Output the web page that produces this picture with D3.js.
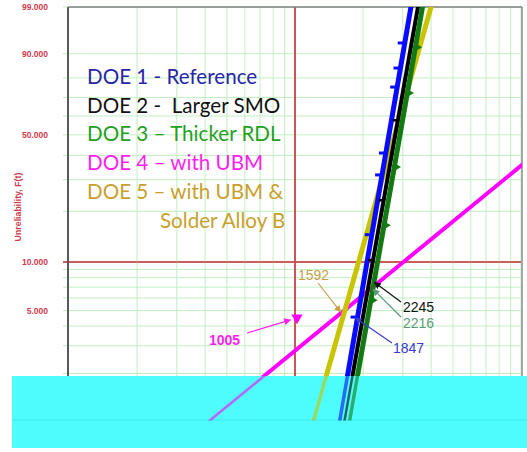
<!DOCTYPE html>
<html>
<head>
<meta charset="utf-8">
<script src="https://cdn.jsdelivr.net/npm/d3@7"></script>
<style>
  body { margin: 0; background: #fff; }
  svg { display: block; }
</style>
</head>
<body>
<svg id="chart" width="527" height="452"></svg>
<script>
// Weibull probability plot – unreliability vs. time for five DOE legs

// Fitted Weibull parameters per leg
const seriesNames = ["DOE 1 - Reference", "DOE 2 -  Larger SMO", "DOE 3 – Thicker RDL", "DOE 4 – with UBM", "DOE 5 – with UBM &"];
const betas = [8.45, 8.19, 8.25, 1.19, 5.12];
const etas  = [2720, 2905, 3047, 20000, 2967];

// Plotted failure points [time, unreliability %]
const doe1Points = [[3060, 93.3], [2930, 84.5], [2833, 75.5], [2525, 41.1], [2429, 31.8], [2187, 14.6], [1892, 4.55]];
const doe2Points = [[2851, 57.8], [2470, 23.2], [2216, 10.3]];
const doe3Points = [[3412, 92.1], [3140, 72.4], [2751, 35.0], [2480, 16.6], [2168, 5.8]];
const doe4Points = [[1005, 4.5]];

// Call-out values (time) and the unreliability level they point at
const calloutValues = [1592, 2245, 2216, 1847, 1005];
const calloutF      = [4.9, 7.5, 6.8, 4.5, 4.5];

// Axis ticks
const yGridF    = [1, 2, 3, 4, 5, 6, 7, 8, 9, 10, 20, 30, 40, 50, 60, 70, 80, 90, 99];
const yLabelF   = [99, 90, 50, 10, 5, 1];
const xGridT    = [200, 300, 400, 500, 600, 700, 800, 900, 1000, 2000, 3000, 4000, 5000, 6000, 7000, 8000, 9000, 10000];
const xRefT     = 1000;
const yRefF     = 10;

// ---- styling / layout ----
const lineColors = ["#0a0aff", "#000000", "#137a13", "#ff00ff", "#c9c400"];
const lineWidths = [5, 4, 5, 4, 5];
const textColors = ["#2727a6", "#111111", "#24a024", "#ff1ef0", "#c9a02c"];
const calloutColors = ["#c9a04a", "#111111", "#5d9a7d", "#3a3ad0", "#ff1ef0"];
const calloutLayout = [
  { tx: 298, ty: 280, sx: 318, sy: 283, bold: false },
  { tx: 403, ty: 312, sx: 401, sy: 302, bold: false },
  { tx: 403, ty: 328, sx: 401, sy: 317, bold: false },
  { tx: 393, ty: 353, sx: 392, sy: 343, bold: false },
  { tx: 209, ty: 345, sx: 247, sy: 333, bold: true, tipDx: -5, tipDy: 2 }
];

const W = 527, H = 452;
const plot = { left: 69, right: 521, top: 7, bottom: 420.6 };

const svg = d3.select("#chart");

const wTrans = F => Math.log(-Math.log(1 - F / 100));
const x = d3.scaleLog().domain([100, 10000]).range([plot.left, plot.right]);
const yw = d3.scaleLinear().domain([wTrans(1), wTrans(99)]).range([plot.bottom, plot.top]);
const y = F => yw(wTrans(F));

// clip paths
const defs = svg.append("defs");
defs.append("clipPath").attr("id", "plotClip")
  .append("rect").attr("x", plot.left - 1).attr("y", plot.top)
  .attr("width", plot.right - plot.left + 2).attr("height", 376 - plot.top);
defs.append("clipPath").attr("id", "bandClip")
  .append("rect").attr("x", plot.left - 1).attr("y", 376)
  .attr("width", plot.right - plot.left + 2).attr("height", plot.bottom - 376);

// ---- grid ----
const grid = svg.append("g");
grid.selectAll("line.h").data(yGridF).join("line")
  .attr("x1", plot.left - 6).attr("x2", plot.right)
  .attr("y1", d => y(d)).attr("y2", d => y(d))
  .attr("stroke", d => d === yRefF ? "#c85050" : "#bff0bf")
  .attr("stroke-width", d => d === yRefF ? 1.6 : 1);
grid.selectAll("line.v").data(xGridT).join("line")
  .attr("x1", d => x(d)).attr("x2", d => x(d))
  .attr("y1", plot.top).attr("y2", plot.bottom)
  .attr("stroke", d => d === xRefT ? "#c85050" : "#bff0bf")
  .attr("stroke-width", d => d === xRefT ? 1.6 : 1);
// reference lines on top of the green grid
grid.append("line").attr("x1", plot.left - 6).attr("x2", plot.right)
  .attr("y1", y(yRefF)).attr("y2", y(yRefF)).attr("stroke", "#c85050").attr("stroke-width", 1.6);
grid.append("line").attr("x1", x(xRefT)).attr("x2", x(xRefT))
  .attr("y1", plot.top).attr("y2", plot.bottom).attr("stroke", "#c85050").attr("stroke-width", 1.6);

// ---- frame ----
svg.append("line").attr("x1", plot.left - 1).attr("x2", plot.left - 1)
  .attr("y1", plot.top).attr("y2", plot.bottom).attr("stroke", "#5a5a5a").attr("stroke-width", 2);
svg.append("line").attr("x1", plot.left - 1).attr("x2", plot.right + 1)
  .attr("y1", plot.top).attr("y2", plot.top).attr("stroke", "#808080").attr("stroke-width", 1.5);
svg.append("line").attr("x1", plot.right + 1).attr("x2", plot.right + 1)
  .attr("y1", plot.top).attr("y2", plot.bottom).attr("stroke", "#8a8a8a").attr("stroke-width", 1.5);

// ---- y tick labels ----
svg.append("g").selectAll("text").data(yLabelF).join("text")
  .attr("x", 48).attr("y", d => y(d)).attr("dy", "0.35em")
  .attr("text-anchor", "end")
  .attr("font-family", "'Liberation Sans', Arial, sans-serif")
  .attr("font-size", 8.5).attr("font-weight", "bold")
  .attr("fill", "#cf3b4b")
  .text(d => d3.format(".3f")(d));

svg.append("text")
  .attr("transform", "translate(21,207) rotate(-90)")
  .attr("text-anchor", "middle")
  .attr("font-family", "'Liberation Sans', Arial, sans-serif")
  .attr("font-size", 8.8).attr("font-weight", "bold")
  .attr("fill", "#cf3b4b")
  .text("Unreliability, F(t)");

// ---- lower band ----
svg.append("rect").attr("x", 12).attr("y", 376).attr("width", W - 12).attr("height", 72)
  .attr("fill", "#4efcfd");
svg.append("line").attr("x1", 12).attr("x2", W).attr("y1", 420).attr("y2", 420)
  .attr("stroke", "#3fe9ee").attr("stroke-width", 1);

// ---- fitted lines ----
const tAt = (i, F) => etas[i] * Math.pow(-Math.log(1 - F / 100), 1 / betas[i]);
const fitEnds = i => [0.3, 99.7].map(F => [x(tAt(i, F)), y(F)]);
const lineGen = d3.line();
const drawOrder = [3, 4, 1, 2, 0];

const fits = svg.append("g").attr("clip-path", "url(#plotClip)");
fits.selectAll("path").data(drawOrder).join("path")
  .attr("d", i => lineGen(fitEnds(i)))
  .attr("stroke", i => lineColors[i]).attr("stroke-width", i => lineWidths[i])
  .attr("fill", "none");

const fitsBand = svg.append("g").attr("clip-path", "url(#bandClip)").attr("opacity", 0.6);
fitsBand.selectAll("path").data(drawOrder).join("path")
  .attr("d", i => lineGen(fitEnds(i)))
  .attr("stroke", i => lineColors[i]).attr("stroke-width", i => lineWidths[i] - 1.5)
  .attr("fill", "none");

// ---- failure points ----
const pts = svg.append("g").attr("clip-path", "url(#plotClip)");
pts.selectAll("rect.d1").data(doe1Points).join("rect")
  .attr("x", d => x(d[0]) - 7).attr("y", d => y(d[1]) - 1.5)
  .attr("width", 7).attr("height", 3).attr("fill", lineColors[0]);
pts.selectAll("rect.d2").data(doe2Points).join("rect")
  .attr("x", d => x(d[0]) - 5).attr("y", d => y(d[1]) - 1)
  .attr("width", 5).attr("height", 2.5).attr("fill", lineColors[1]);
pts.selectAll("path.d3").data(doe3Points).join("path")
  .attr("d", d3.symbol(d3.symbolTriangle, 18))
  .attr("transform", d => `translate(${x(d[0]) + 3},${y(d[1])}) rotate(90)`)
  .attr("fill", lineColors[2]);
pts.selectAll("path.d4").data(doe4Points).join("path")
  .attr("d", d3.symbol(d3.symbolTriangle, 55))
  .attr("transform", d => `translate(${x(d[0]) + 1.5},${y(d[1])}) rotate(180)`)
  .attr("fill", lineColors[3]);

// ---- legend ----
const legend = svg.append("g")
  .attr("font-family", "Lato, 'Open Sans', sans-serif")
  .attr("font-size", 20.6);
const legendRows = seriesNames.map((s, i) => ({ text: s, color: textColors[i], x: 87 }))
  .concat([{ text: "Solder Alloy B", color: textColors[4], x: 160 }]);
legend.selectAll("text").data(legendRows).join("text")
  .attr("x", d => d.x).attr("y", (d, i) => 84 + i * 28.7)
  .attr("fill", d => d.color)
  .style("white-space", "pre")
  .text(d => d.text);

// ---- call-outs ----
calloutValues.forEach((v, i) => {
  const c = calloutColors[i];
  const L = calloutLayout[i];
  const mid = "arrow" + i;
  defs.append("marker").attr("id", mid)
    .attr("viewBox", "0 0 10 10").attr("refX", 9).attr("refY", 5)
    .attr("markerWidth", 7).attr("markerHeight", 7).attr("orient", "auto")
    .attr("markerUnits", "userSpaceOnUse")
    .append("path").attr("d", "M0,0 L10,5 L0,10 z").attr("fill", c);
  const tx = x(v) + (L.tipDx || 0), ty = y(calloutF[i]) + (L.tipDy || 0);
  svg.append("line")
    .attr("x1", L.sx).attr("y1", L.sy).attr("x2", tx).attr("y2", ty)
    .attr("stroke", c).attr("stroke-width", 1.2)
    .attr("marker-end", `url(#${mid})`);
  svg.append("text")
    .attr("x", L.tx).attr("y", L.ty)
    .attr("font-family", "'Liberation Sans', Arial, sans-serif")
    .attr("font-size", 14).attr("font-weight", L.bold ? "bold" : "normal")
    .attr("fill", c)
    .text(v);
});
</script>
</body>
</html>
